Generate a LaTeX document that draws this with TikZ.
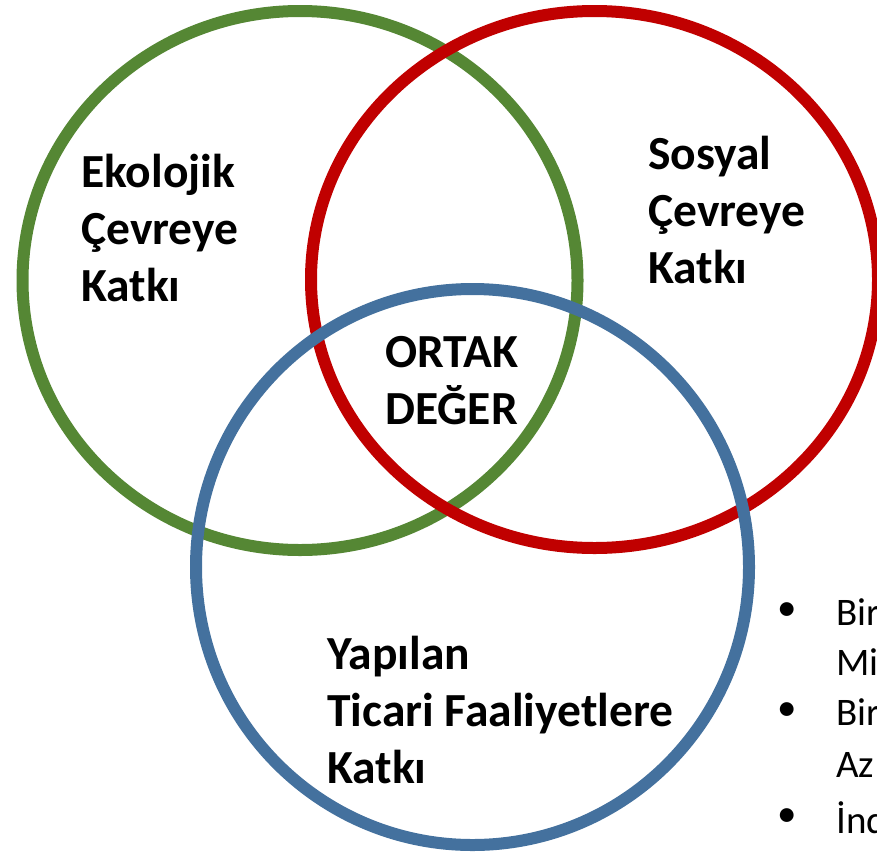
\documentclass[tikz,border=0pt]{standalone}
\usepackage{fontspec}
\setmainfont{Carlito}
\definecolor{cgreen}{HTML}{558734}
\definecolor{cred}{HTML}{C00000}
\definecolor{cblue}{HTML}{44719E}
\begin{document}
\begin{tikzpicture}[x=1pt,y=-1pt,
  ring/.style={line width=12pt},
  lbl/.style={font=\fontsize{47.5}{57}\selectfont\bfseries, align=left, inner sep=0pt, anchor=west},
  blt/.style={font=\fontsize{39}{52}\selectfont, align=left, inner sep=0pt, anchor=west}]
\useasboundingbox (0,0) rectangle (877,854);
\draw[ring, cgreen] (300,280.5) ellipse [x radius=277.5, y radius=269.5];
\draw[ring, cred] (594.5,279.5) ellipse [x radius=283.5, y radius=268.5];
\draw[ring, cblue] (472.5,567) ellipse [x radius=276.5, y radius=278];
\node[lbl] (eko) at (81,228) {Ekolojik\\Çevreye\\Katkı};
\node[lbl] (sos) at (648,210) {Sosyal\\Çevreye\\Katkı};
\node[lbl] (ort) at (385,381) {ORTAK\\DEĞER};
\node[lbl] (yap) at (327,710) {Yapılan\\Ticari Faaliyetlere\\Katkı};
\node[blt] (b1) at (777,612) {•};
\node[blt] (b2) at (777,712) {•};
\node[blt] (b3) at (777,818) {•};
\node[blt] (t1) at (836,612) {Bir};
\node[blt] (t2) at (836,662) {Mi};
\node[blt] (t3) at (836,712) {Bir};
\node[blt] (t4) at (836,765) {Az};
\node[blt] (t5) at (836,818) {İnd};
\end{tikzpicture}
\end{document}
